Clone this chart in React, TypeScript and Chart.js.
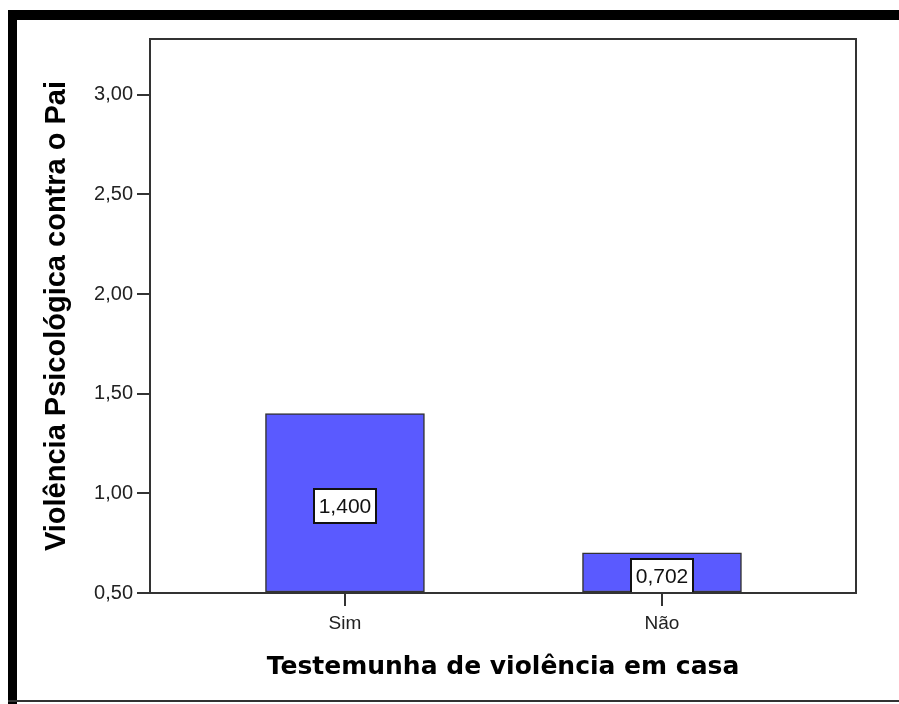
import React, { useEffect, useRef } from "react";
import { Chart, registerables } from "chart.js";

Chart.register(...registerables);

const categories: string[] = ["Sim", "Não"];
const values: number[] = [1.4, 0.702];
const valueLabels: string[] = ["1,400", "0,702"];
const yTickValues: number[] = [0.5, 1.0, 1.5, 2.0, 2.5, 3.0];
const yMin = 0.5;
const yMax = 3.28;
const yTitle = "Violência Psicológica contra o Pai";
const xTitle = "Testemunha de violência em casa";

const W = 899;
const H = 704;

const framePlugin = {
  id: "frame",
  beforeDraw(chart: any) {
    const ctx = chart.ctx;
    ctx.save();
    ctx.fillStyle = "#ffffff";
    ctx.fillRect(0, 0, chart.width, chart.height);
    ctx.fillStyle = "#000000";
    ctx.fillRect(8, 10, chart.width - 8, 10);
    ctx.fillRect(8, 10, 9, chart.height - 10);
    ctx.fillStyle = "#333333";
    ctx.fillRect(8, 700, chart.width - 8, 2);
    ctx.restore();
  },
  afterDraw(chart: any) {
    const { ctx, chartArea } = chart;
    ctx.save();
    ctx.strokeStyle = "#333333";
    ctx.lineWidth = 2;
    ctx.strokeRect(chartArea.left, chartArea.top, chartArea.right - chartArea.left, chartArea.bottom - chartArea.top);
    ctx.restore();
  },
};

const labelPlugin = {
  id: "valueBoxes",
  afterDatasetsDraw(chart: any) {
    const { ctx } = chart;
    const meta = chart.getDatasetMeta(0);
    const yScale = chart.scales.y;
    const baseY = yScale.getPixelForValue(yMin);
    ctx.save();
    ctx.font = '21px "Liberation Sans", Arial, sans-serif';
    ctx.textAlign = "center";
    ctx.textBaseline = "middle";
    meta.data.forEach((bar: any, i: number) => {
      const topY = yScale.getPixelForValue(values[i]);
      const bw = 62;
      const bh = 34;
      let cy = (topY + baseY) / 2 + 3;
      if (cy + bh / 2 > baseY + 1) cy = baseY + 1 - bh / 2;
      const x0 = Math.round(bar.x - bw / 2);
      const y0 = Math.round(cy - bh / 2);
      ctx.fillStyle = "#ffffff";
      ctx.fillRect(x0, y0, bw, bh);
      ctx.strokeStyle = "#111111";
      ctx.lineWidth = 2;
      ctx.strokeRect(x0, y0, bw, bh);
      ctx.fillStyle = "#111111";
      ctx.fillText(valueLabels[i], bar.x, cy + 1);
    });
    ctx.restore();
  },
};

export default function App() {
  const ref = useRef<HTMLCanvasElement | null>(null);

  useEffect(() => {
    document.body.style.margin = "0";
    const canvas = ref.current;
    if (!canvas) return;
    const chart = new Chart(canvas, {
      type: "bar",
      data: {
        datasets: [
          {
            data: categories.map((_, i) => ({ x: i, y: values[i] })),
            backgroundColor: "#5a5aff",
            borderColor: "#333333",
            borderWidth: 1.5,
            borderSkipped: false,
            barThickness: 159,
            base: yMin,
          } as any,
        ],
      },
      options: {
        responsive: false,
        animation: false,
        devicePixelRatio: 1,
        layout: { padding: { left: 0, top: 39, right: 43, bottom: 0 } },
        plugins: {
          legend: { display: false },
          tooltip: { enabled: false },
        },
        scales: {
          x: {
            type: "linear",
            min: -0.615,
            max: 1.612,
            offset: false,
            afterBuildTicks: (scale: any) => {
              scale.ticks = categories.map((_, i) => ({ value: i }));
            },
            afterFit: (scale: any) => {
              scale.height = 111;
            },
            ticks: {
              callback: (v: any) => categories[v as number] ?? "",
              font: { family: '"Liberation Sans", Arial, sans-serif', size: 19 },
              color: "#222222",
              padding: 6,
              maxRotation: 0,
            },
            grid: {
              offset: false,
              drawOnChartArea: false,
              drawTicks: true,
              tickLength: 13,
              color: "#333333",
              lineWidth: 2,
            },
            border: { display: true, color: "#333333", width: 2 },
            title: {
              display: true,
              text: xTitle,
              font: { family: '"DejaVu Sans", Verdana, sans-serif', size: 25, weight: "bold" },
              color: "#000000",
              padding: { top: 0, bottom: 22 },
            },
          },
          y: {
            type: "linear",
            min: yMin,
            max: yMax,
            afterBuildTicks: (scale: any) => {
              scale.ticks = yTickValues.map((v) => ({ value: v }));
            },
            afterFit: (scale: any) => {
              scale.width = 150;
            },
            ticks: {
              callback: (v: any) => Number(v).toFixed(2).replace(".", ","),
              font: { family: '"Liberation Sans", Arial, sans-serif', size: 20 },
              color: "#222222",
              padding: 4,
            },
            grid: {
              drawOnChartArea: false,
              drawTicks: true,
              tickLength: 13,
              color: "#333333",
              lineWidth: 2,
            },
            border: { display: true, color: "#333333", width: 2 },
            title: {
              display: true,
              text: yTitle,
              font: { family: '"Liberation Sans", Arial, sans-serif', size: 29, weight: "bold" },
              color: "#000000",
              padding: { top: 40, bottom: 0 },
            },
          },
        },
      },
      plugins: [framePlugin, labelPlugin],
    });
    return () => chart.destroy();
  }, []);

  return (
    <canvas ref={ref} width={W} height={H} style={{ display: "block", width: W, height: H }} />
  );
}
